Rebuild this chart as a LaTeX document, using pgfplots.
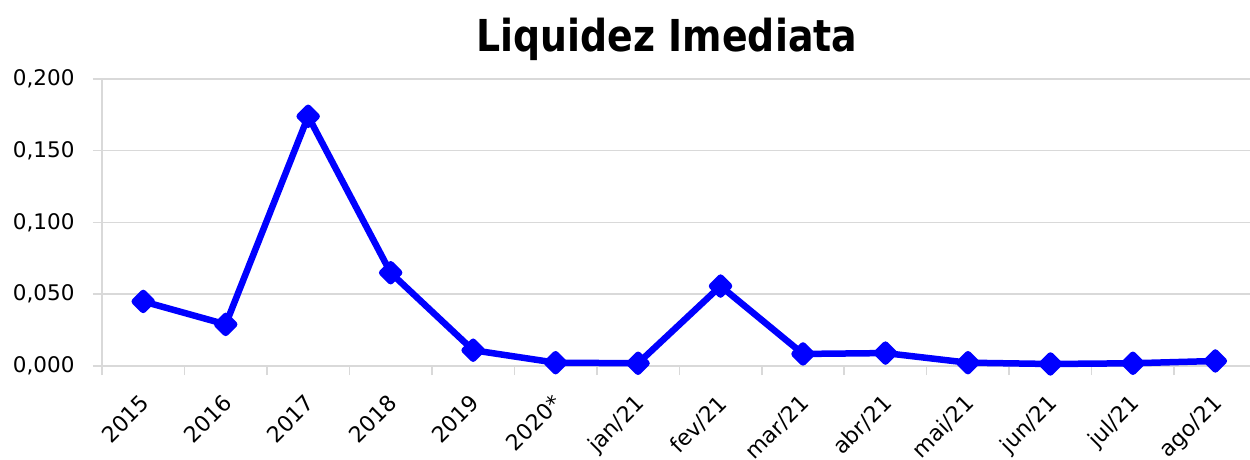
\documentclass[border=0pt]{standalone}
\usepackage{fontspec}
\setmainfont{DejaVu Sans}
\newfontfamily\titlefont{DejaVu Sans}[FakeStretch=0.86]
\usepackage{pgfplots}
\pgfplotsset{compat=1.18}
\definecolor{gridgray}{RGB}{217,217,217}
\definecolor{lineblue}{RGB}{0,0,255}
\begin{document}
\begin{tikzpicture}
\begin{axis}[
  scale only axis, width=1148pt, height=287pt,
  xmin=-0.5, xmax=13.42, ymin=0, ymax=0.2,
  axis lines*=left,
  axis line style={draw=gridgray, line width=1.5pt},
  ytick={0,0.05,0.1,0.15,0.2},
  ymajorgrids, grid style={gridgray, line width=1.5pt},
  tick align=outside,
  major tick length=9pt,
  tick style={gridgray, line width=1.5pt},
  yticklabel={\pgfmathprintnumber[fixed,fixed zerofill,precision=3,use comma,assume math mode=true]{\tick}},
  yticklabel style={font=\fontsize{21.5}{26}\selectfont, xshift=-15pt},
  xtick={-0.5,0.5,...,12.5},
  xticklabels={},
  extra x ticks={0,1,2,3,4,5,6,7,8,9,10,11,12,13},
  extra x tick labels={2015,2016,2017,2018,2019,2020*,jan/21,fev/21,mar/21,abr/21,mai/21,jun/21,jul/21,ago/21},
  extra x tick style={tick style={draw=none}, grid=none,
    tick label style={font=\fontsize{22}{26}\selectfont, xshift=-4pt, yshift=-18pt, rotate=45, anchor=north east, inner sep=0pt}},
  clip=false,
]
\addplot[lineblue, line width=6.5pt, line join=round, mark=square*, mark size=6pt, mark options={rotate=45, solid, fill=lineblue}]
coordinates {
(0,0.045) (1,0.029) (2,0.174) (3,0.065) (4,0.011) (5,0.0023) (6,0.0019)
(7,0.0557) (8,0.0084) (9,0.009) (10,0.0023) (11,0.0014) (12,0.0019) (13,0.0035)
};
\end{axis}
\node[font=\titlefont\bfseries\fontsize{44}{50}\selectfont, anchor=base] at (565pt,314pt) {Liquidez Imediata};
\pgfresetboundingbox
\useasboundingbox (-102pt,-94pt) rectangle (1148pt,366pt);
\end{tikzpicture}
\end{document}
